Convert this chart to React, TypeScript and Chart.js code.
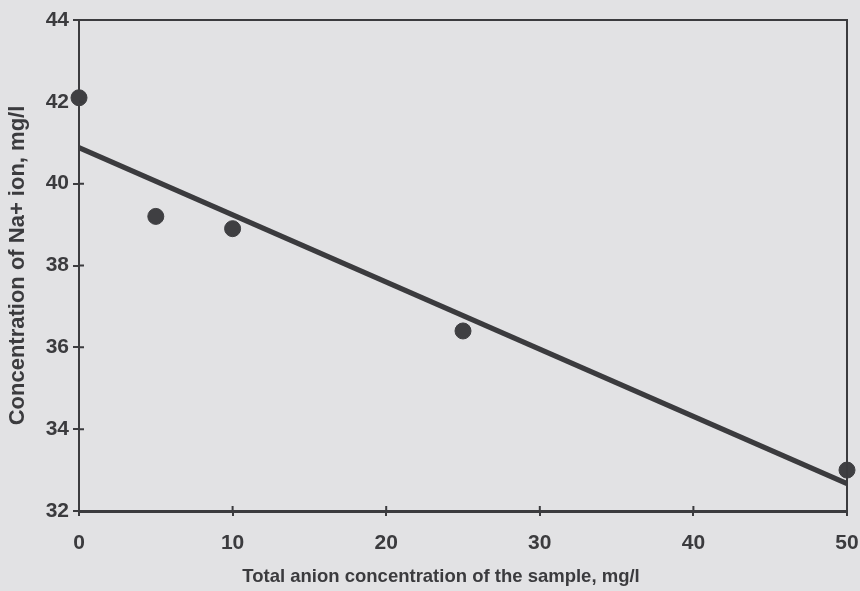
import React, { useEffect, useRef } from "react";
import { Chart, registerables } from "chart.js";

Chart.register(...registerables);

const sampleX = [0, 5, 10, 25, 50];
const sodiumY = [42.1, 39.2, 38.9, 36.4, 33.0];
const fitX = [0, 50];
const fitY = [40.88, 32.67];
const yTicks = [32, 34, 36, 38, 40, 42, 44];
const xTicks = [0, 10, 20, 30, 40, 50];
const xTitle = "Total anion concentration of the sample, mg/l";
const yTitle = "Concentration of Na+ ion, mg/l";

const INK = "#3b3b3e";
const BG = "#e2e2e4";

const frame = {
  id: "frame",
  beforeDraw(chart: any) {
    const { ctx, width, height } = chart;
    ctx.save();
    ctx.fillStyle = BG;
    ctx.fillRect(0, 0, width, height);
    ctx.restore();
  },
  afterDatasetsDraw(chart: any) {
    const { ctx, chartArea: a, scales } = chart;
    ctx.save();
    ctx.strokeStyle = INK;
    ctx.lineWidth = 2;
    ctx.beginPath();
    ctx.moveTo(a.left, a.top);
    ctx.lineTo(a.right, a.top);
    ctx.lineTo(a.right, a.bottom);
    ctx.stroke();
    // inner half of the crossing tick marks
    ctx.beginPath();
    for (const v of yTicks) {
      const py = scales.y.getPixelForValue(v);
      ctx.moveTo(a.left, py);
      ctx.lineTo(a.left + 5, py);
    }
    for (const v of xTicks) {
      const px = scales.x.getPixelForValue(v);
      ctx.moveTo(px, a.bottom);
      ctx.lineTo(px, a.bottom - 5);
    }
    ctx.stroke();
    // x-axis title, set slightly left of centre as in the original figure
    ctx.fillStyle = INK;
    ctx.font = "bold 18.5px 'Liberation Sans'";
    ctx.textAlign = "center";
    ctx.textBaseline = "middle";
    ctx.fillText(xTitle, (a.left + a.right) / 2 - 22, a.bottom + 66);
    ctx.restore();
  },
};

export default function App() {
  const ref = useRef<HTMLCanvasElement>(null);
  useEffect(() => {
    document.body.style.margin = "0";
    const chart = new Chart(ref.current!, {
      type: "scatter",
      data: {
        datasets: [
          {
            label: "Fit",
            type: "line",
            data: fitX.map((x, i) => ({ x, y: fitY[i] })),
            borderColor: INK,
            borderWidth: 5,
            pointRadius: 0,
            fill: false,
          } as any,
          {
            label: "Samples",
            data: sampleX.map((x, i) => ({ x, y: sodiumY[i] })),
            backgroundColor: "#3f3f42",
            borderColor: "#3f3f42",
            pointRadius: 8,
            clip: false,
          } as any,
        ],
      },
      options: {
        animation: false,
        responsive: false,
        layout: { padding: { top: 20, right: 13, left: 0, bottom: 0 } },
        plugins: { legend: { display: false }, tooltip: { enabled: false } },
        scales: {
          x: {
            type: "linear",
            min: 0,
            max: 50,
            afterBuildTicks: (s: any) => {
              s.ticks = xTicks.map((v) => ({ value: v }));
            },
            afterFit: (s: any) => {
              s.height = 80;
              s.paddingLeft = 0;
              s.paddingRight = 0;
            },
            grid: { drawOnChartArea: false, drawTicks: true, tickLength: 5, color: INK, lineWidth: 2 },
            border: { color: INK, width: 3 },
            ticks: {
              color: INK,
              padding: 15,
              maxRotation: 0,
              font: { family: "Liberation Sans", size: 21, weight: "bold" },
            },
            title: { display: false, text: xTitle },
          },
          y: {
            type: "linear",
            min: 32,
            max: 44,
            afterBuildTicks: (s: any) => {
              s.ticks = yTicks.map((v) => ({ value: v }));
            },
            afterFit: (s: any) => {
              s.width = 79;
            },
            grid: { drawOnChartArea: false, drawTicks: true, tickLength: 6, color: INK, lineWidth: 2 },
            border: { color: INK, width: 2 },
            ticks: {
              color: INK,
              padding: 4,
              font: { family: "Liberation Sans", size: 21, weight: "bold" },
            },
            title: {
              display: true,
              text: yTitle,
              color: INK,
              padding: { top: 5, bottom: 0 },
              font: { family: "Liberation Sans", size: 22, weight: "bold" },
            },
          },
        },
      },
      plugins: [frame],
    });
    return () => chart.destroy();
  }, []);
  return (
    <div style={{ width: 860, height: 591 }}>
      <canvas ref={ref} width={860} height={591} />
    </div>
  );
}
